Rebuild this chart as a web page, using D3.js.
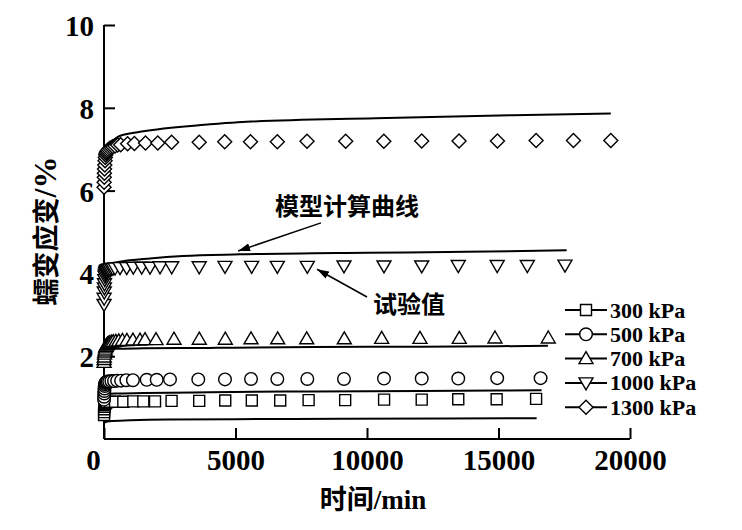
<!DOCTYPE html>
<html><head><meta charset="utf-8">
<script src="https://cdn.jsdelivr.net/npm/d3@7"></script>
<style>body{margin:0;background:#fff}svg{display:block}</style>
</head><body>
<svg id="c" width="742" height="530"></svg>
<script>
// ---- axis / labels ----
const xTicks = [0, 5000, 10000, 15000, 20000];
const yTicks = [2, 4, 6, 8, 10];
const xTitle = "时间/min";
const yTitleMain = "蠕变应变";
const yTitleUnit = "/%";
const legendLabels = ["300 kPa", "500 kPa", "700 kPa", "1000 kPa", "1300 kPa"];
const noteModel = "模型计算曲线";
const noteTest = "试验值";

// ---- test data (time in min, creep strain in %) ----
const t300 = [2,5,10,20,30,45,60,80,120,228,420,735,1115,1495,1940,2570,3620,4610,5620,6700,7780,9170,10650,12080,13470,14930,16430];
const e300 = [0.58,0.65,0.72,0.78,0.82,0.85,0.87,0.88,0.89,0.90,0.90,0.90,0.91,0.91,0.91,0.92,0.92,0.93,0.93,0.93,0.94,0.94,0.95,0.95,0.96,0.96,0.97];
const t500 = [2,5,10,15,20,30,40,55,75,100,140,200,280,380,500,650,850,1100,1624,2004,2509,3585,4600,5590,6590,7730,9125,10646,12080,13470,14950,16600];
const e500 = [0.95,1.02,1.1,1.16,1.22,1.28,1.32,1.35,1.37,1.38,1.39,1.39,1.4,1.4,1.41,1.41,1.42,1.42,1.43,1.43,1.44,1.44,1.44,1.45,1.45,1.45,1.45,1.46,1.46,1.46,1.47,1.47];
const t700 = [2,5,10,20,30,45,60,80,100,130,170,220,280,350,450,560,700,870,1100,1369,1559,1977,2661,3623,4612,5589,6604,7707,9137,10558,12014,13509,14866,16893];
const e700 = [1.85,1.92,1.98,2.05,2.1,2.15,2.2,2.24,2.27,2.29,2.31,2.33,2.34,2.35,2.36,2.37,2.38,2.38,2.39,2.39,2.4,2.4,2.41,2.41,2.41,2.42,2.42,2.42,2.42,2.43,2.43,2.43,2.44,2.44];
const t1000 = [2,5,10,15,20,30,40,50,65,80,100,130,170,220,280,340,420,608,863,1114,1433,1749,2129,2574,3620,4600,5615,6590,7730,9125,10646,12080,13470,14950,16095,17527];
const e1000 = [3.25,3.4,3.55,3.65,3.75,3.85,3.93,3.98,4.02,4.05,4.07,4.09,4.1,4.11,4.12,4.12,4.13,4.14,4.14,4.15,4.15,4.15,4.16,4.16,4.16,4.17,4.17,4.17,4.17,4.18,4.18,4.18,4.19,4.19,4.19,4.2];
const t1300 = [2,5,10,15,20,30,40,50,65,80,100,130,170,220,280,340,420,520,635,897,1156,1578,2045,2570,3620,4590,5570,6590,7720,9190,10640,12080,13500,14960,16430,17850,19270];
const e1300 = [6.08,6.2,6.32,6.42,6.52,6.62,6.72,6.8,6.86,6.9,6.93,6.96,6.99,7.02,7.04,7.06,7.08,7.1,7.11,7.13,7.14,7.15,7.15,7.17,7.17,7.18,7.18,7.18,7.19,7.19,7.19,7.2,7.2,7.2,7.21,7.21,7.21];

// ---- model curves ----
const mt300 = [0,50,200,1000,2400,5000,9000,16450];
const me300 = [0.38,0.41,0.43,0.45,0.47,0.48,0.49,0.5];
const mt500 = [0,20,60,150,400,1500,4000,8000,12000,16640];
const me500 = [0.9,1.0,1.05,1.08,1.1,1.11,1.13,1.15,1.16,1.18];
const mt700 = [0,20,60,150,400,1500,4000,8000,12000,16880];
const me700 = [1.9,2.05,2.12,2.16,2.18,2.19,2.2,2.22,2.23,2.25];
const mt1000 = [0,10,30,80,200,600,1750,3000,5170,10000,13800,17590];
const me1000 = [3.95,4.05,4.13,4.19,4.23,4.28,4.36,4.42,4.46,4.5,4.52,4.56];
const mt1300 = [0,30,150,420,600,1370,4030,5090,10320,15550,19270];
const me1300 = [6.7,6.85,7.1,7.25,7.32,7.42,7.6,7.65,7.75,7.82,7.86];

const shapes = ["square","circle","up","down","diamond"];
const tests = [[t300,e300],[t500,e500],[t700,e700],[t1000,e1000],[t1300,e1300]];
const models = [[mt300,me300],[mt500,me500],[mt700,me700],[mt1000,me1000],[mt1300,me1300]];

const svg = d3.select("#c");
const x = d3.scaleLinear().domain([0, 20000]).range([104, 630]);
const y = d3.scaleLinear().domain([0, 10]).range([439, 25]);
const numFont = "'Liberation Serif','Times New Roman',serif";
const cjkFont = "'Liberation Serif','Noto Sans CJK SC',serif";

function markerPath(s) {
  switch (s) {
    case "square": return "M-5.5,-5.5h11v11h-11z";
    case "circle": return "M6.3,0A6.3,6.3 0 1,1 -6.3,0A6.3,6.3 0 1,1 6.3,0Z";
    case "up": return "M0,-7L7,5L-7,5Z";
    case "down": return "M0,7L7,-5L-7,-5Z";
    case "diamond": return "M0,-7L7,0L0,7L-7,0Z";
  }
}

// axes
const xAxis = svg.append("g").attr("transform", "translate(0,439)")
  .call(d3.axisBottom(x).tickValues(xTicks).tickFormat(d3.format("d")).tickSizeInner(-11).tickSizeOuter(0).tickPadding(10));
const yAxis = svg.append("g").attr("transform", "translate(104,0)")
  .call(d3.axisLeft(y).tickValues(yTicks).tickFormat(d3.format("d")).tickSizeInner(-11).tickSizeOuter(0).tickPadding(10));
[xAxis, yAxis].forEach(g => {
  g.select(".domain").attr("stroke", "#000").attr("stroke-width", 2);
  g.selectAll(".tick line").attr("stroke", "#000").attr("stroke-width", 2);
  g.selectAll(".tick text").attr("fill", "#000").style("font-family", numFont)
    .style("font-weight", "bold").style("font-size", "29px");
});
yAxis.select(".domain").attr("d", `M0,${y(0)}V${y(10)}`);
xAxis.select(".domain").attr("d", `M${x(0)},0H${x(20000)}`);
xAxis.selectAll(".tick").filter(d => d === 0).select("text").attr("x", -11);
yAxis.selectAll(".tick text").attr("dy", "0.36em");

// model lines
const line = d3.line().x(d => x(d[0])).y(d => y(d[1])).curve(d3.curveMonotoneX);
models.forEach(([t, e]) => {
  svg.append("path").datum(t.map((v, i) => [v, e[i]]))
    .attr("d", line).attr("fill", "none").attr("stroke", "#000").attr("stroke-width", 2);
});

// test markers
tests.forEach(([t, e], k) => {
  svg.append("g").selectAll("path").data(t.map((v, i) => [v, e[i]])).join("path")
    .attr("d", markerPath(shapes[k]))
    .attr("transform", d => `translate(${x(d[0])},${y(d[1])})`)
    .attr("fill", "#fff").attr("stroke", "#000").attr("stroke-width", 1.4);
});

// axis titles
svg.append("text").attr("x", 373).attr("y", 509).attr("text-anchor", "middle")
  .style("font-family", cjkFont).style("font-weight", "bold").style("font-size", "27px").text(xTitle);
const yt = svg.append("text").attr("transform", "translate(56,231) rotate(-90)").attr("text-anchor", "middle")
  .style("font-family", cjkFont).style("font-weight", "bold").style("font-size", "27px");
yt.append("tspan").text(yTitleMain);
yt.append("tspan").style("font-size", "32px").text(yTitleUnit);

// legend
const lg = svg.append("g");
legendLabels.forEach((lab, i) => {
  const yy = 310 + i * 24.3;
  lg.append("line").attr("x1", 565).attr("x2", 607).attr("y1", yy).attr("y2", yy)
    .attr("stroke", "#000").attr("stroke-width", 2);
  lg.append("path").attr("d", markerPath(shapes[i])).attr("transform", `translate(586,${yy})`)
    .attr("fill", "#fff").attr("stroke", "#000").attr("stroke-width", 1.4);
  lg.append("text").attr("x", 610).attr("y", yy + 7.5).text(lab)
    .style("font-family", numFont).style("font-weight", "bold").style("font-size", "22px");
});

// annotations
const defs = svg.append("defs");
defs.append("marker").attr("id", "ah").attr("viewBox", "0 0 12 8").attr("refX", 12).attr("refY", 4)
  .attr("markerWidth", 12).attr("markerHeight", 8).attr("markerUnits", "userSpaceOnUse").attr("orient", "auto")
  .append("path").attr("d", "M0,0L12,4L0,8Z").attr("fill", "#000");
svg.append("line").attr("x1", x(8250)).attr("y1", y(5.22)).attr("x2", x(5100)).attr("y2", y(4.54))
  .attr("stroke", "#000").attr("stroke-width", 1.5).attr("marker-end", "url(#ah)");
svg.append("line").attr("x1", x(10000)).attr("y1", y(3.43)).attr("x2", x(8100)).attr("y2", y(4.1))
  .attr("stroke", "#000").attr("stroke-width", 1.5).attr("marker-end", "url(#ah)");
svg.append("text").attr("x", 275).attr("y", 215).text(noteModel)
  .style("font-family", "'Noto Sans CJK SC'").style("font-weight", "bold").style("font-size", "24px");
svg.append("text").attr("x", 373).attr("y", 313).text(noteTest)
  .style("font-family", "'Noto Sans CJK SC'").style("font-weight", "bold").style("font-size", "24px");
</script>
</body></html>
